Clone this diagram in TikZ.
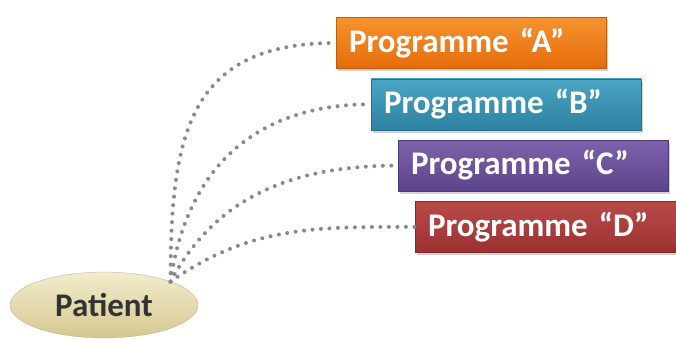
\documentclass[tikz,border=0pt]{standalone}
\usepackage{fontspec}
\setmainfont{Carlito}
\usepackage{tikz}
\usetikzlibrary{shapes.geometric,shadows}
\definecolor{progAtop}{HTML}{F6922F}
\definecolor{progAbot}{HTML}{E66C0C}
\definecolor{progBtop}{HTML}{4BA5C2}
\definecolor{progBbot}{HTML}{2D82A1}
\definecolor{progCtop}{HTML}{7C62AB}
\definecolor{progCbot}{HTML}{5C448A}
\definecolor{progDtop}{HTML}{BA4A4A}
\definecolor{progDbot}{HTML}{9B3030}
\definecolor{patTop}{HTML}{F2ECCD}
\definecolor{patBot}{HTML}{D5C88F}
\definecolor{linkgray}{HTML}{8A8A8A}
\tikzstyle{programme} = [rectangle, font=\fontsize{33}{38}\selectfont\bfseries, text=white, text width=244pt, align=left, minimum height=51pt, inner xsep=13pt, inner ysep=0pt, drop shadow={opacity=0.35, shadow xshift=2pt, shadow yshift=-3pt}]
\tikzstyle{patient} = [ellipse, font=\fontsize{33}{36}\selectfont\bfseries, text=black!80, minimum width=188pt, minimum height=66pt, inner sep=0pt, top color=patTop, bottom color=patBot, draw=patBot!80!black, very thin]
\tikzstyle{link} = [draw=linkgray, line width=4pt, line cap=round, dash pattern=on 0pt off 8.5pt]

\begin{document}
\begin{tikzpicture}[x=1pt, y=1pt, node distance=61.3pt]
\useasboundingbox (0,0) rectangle (676,338);
\node (progA) [programme, top color=progAtop, bottom color=progAbot, draw=progAbot!85!black] at (471,295) {Programme “A”};
\node (progB) [programme, top color=progBtop, bottom color=progBbot, draw=progBbot!85!black, below of=progA, xshift=35pt] {Programme “B”};
\node (progC) [programme, top color=progCtop, bottom color=progCbot, draw=progCbot!85!black, below of=progB, xshift=27pt] {Programme “C”};
\node (progD) [programme, top color=progDtop, bottom color=progDbot, draw=progDbot!85!black, below of=progC, xshift=13pt, text width=236pt] {Programme “D”};
\node (pat) [patient] at (104,33) {Patient};

\draw [link] (pat.north east) to[out=90, in=180, looseness=1.3] (progA.west);
\draw [link] (pat.north east) to[out=82, in=180, looseness=1.1] (progB.west);
\draw [link] (pat.north east) to[out=62, in=180] (progC.west);
\draw [link] (pat.north east) to[out=35, in=180] (progD.west);
\end{tikzpicture}
\end{document}
